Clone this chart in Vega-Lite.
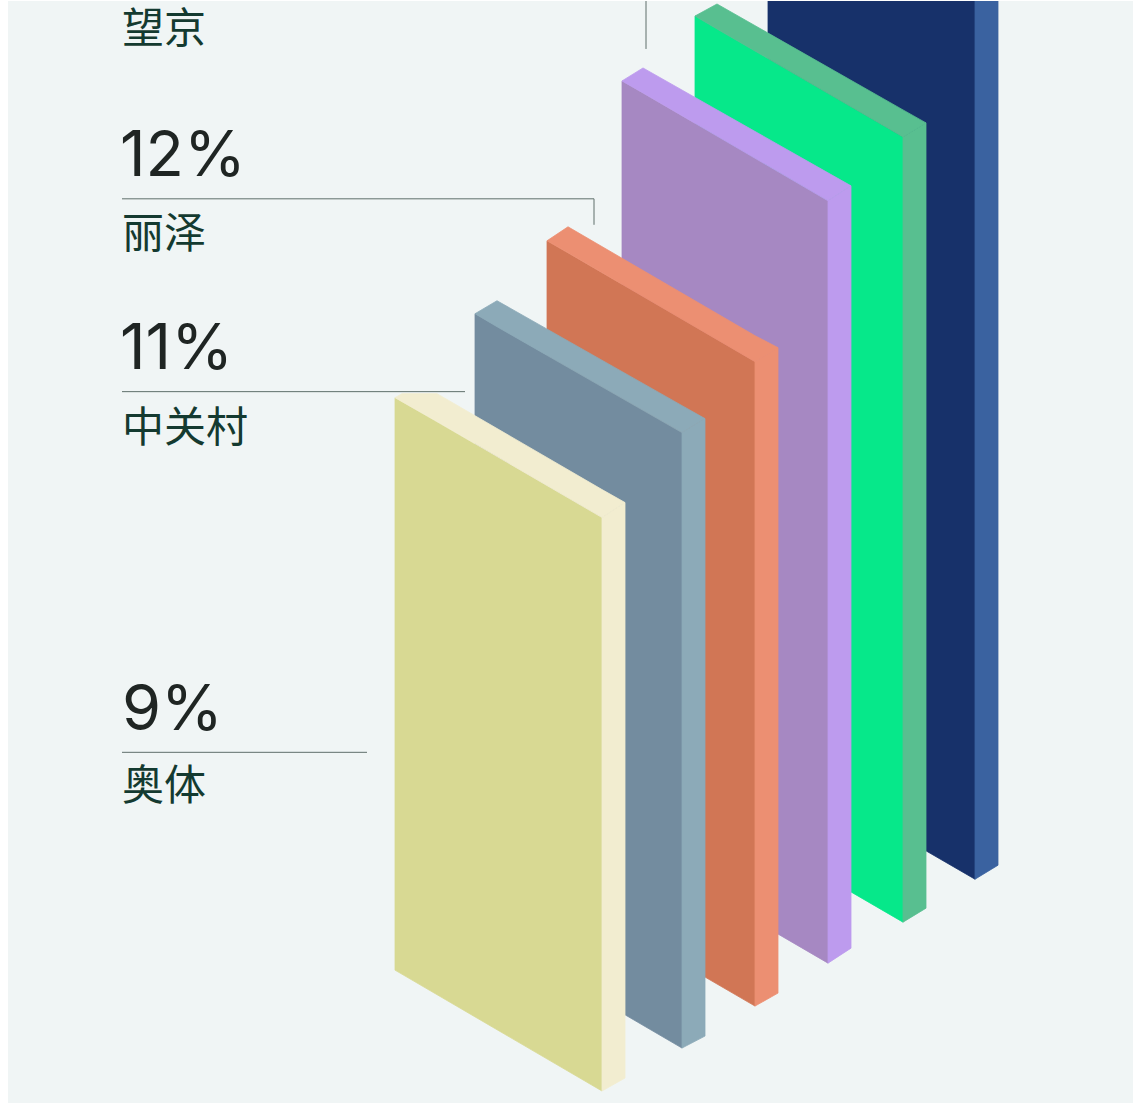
{
"$schema":"https://vega.github.io/schema/vega-lite/v6.json",
"width":1133,"height":1105,"padding":0,"autosize":{"type":"fit","contains":"padding"},
"background":"#ffffff",
"config":{"view":{"stroke":null}},
"datasets":{
"panel":[{"x":8,"x2":1133,"y":0,"y2":1103}],
"faces":[
{"face":"a-front","x":768,"y":-130,"y2":759},{"face":"a-front","x":975,"y":-10,"y2":879},
{"face":"a-side","x":975,"y":-10,"y2":879},{"face":"a-side","x":998,"y":-23,"y2":865},
{"face":"b-front","x":695,"y":15,"y2":801},{"face":"b-front","x":903,"y":136,"y2":922},
{"face":"b-side","x":903,"y":136,"y2":922},{"face":"b-side","x":926,"y":122,"y2":908},
{"face":"b-top","x":695,"y":15,"y2":15},{"face":"b-top","x":717,"y":3,"y2":28},{"face":"b-top","x":903,"y":109,"y2":136},{"face":"b-top","x":926,"y":122,"y2":122},
{"face":"望京-front","x":622,"y":80,"y2":843},{"face":"望京-front","x":828,"y":200,"y2":963},
{"face":"望京-side","x":828,"y":200,"y2":963},{"face":"望京-side","x":851,"y":185,"y2":948},
{"face":"望京-top","x":622,"y":80,"y2":80},{"face":"望京-top","x":643,"y":67,"y2":92},{"face":"望京-top","x":828,"y":172,"y2":200},{"face":"望京-top","x":851,"y":185,"y2":185},
{"face":"丽泽-front","x":547,"y":240,"y2":885},{"face":"丽泽-front","x":755,"y":361,"y2":1006},
{"face":"丽泽-side","x":755,"y":361,"y2":1006},{"face":"丽泽-side","x":778,"y":347,"y2":993},
{"face":"丽泽-top","x":547,"y":240,"y2":240},{"face":"丽泽-top","x":568,"y":226,"y2":252},{"face":"丽泽-top","x":755,"y":335,"y2":361},{"face":"丽泽-top","x":778,"y":347,"y2":347},
{"face":"中关村-front","x":475,"y":313,"y2":927},{"face":"中关村-front","x":682,"y":432,"y2":1048},
{"face":"中关村-side","x":682,"y":432,"y2":1048},{"face":"中关村-side","x":705,"y":418,"y2":1036},
{"face":"中关村-top","x":475,"y":313,"y2":313},{"face":"中关村-top","x":497,"y":300,"y2":326},{"face":"中关村-top","x":682,"y":405,"y2":432},{"face":"中关村-top","x":705,"y":418,"y2":418},
{"face":"奥体-front","x":395,"y":397,"y2":970},{"face":"奥体-front","x":602,"y":517,"y2":1091},
{"face":"奥体-side","x":602,"y":517,"y2":1091},{"face":"奥体-side","x":625,"y":502,"y2":1078},
{"face":"奥体-top","x":395,"y":397,"y2":397},{"face":"奥体-top","x":402,"y":393,"y2":401},{"face":"奥体-top","x":437,"y":393,"y2":421},{"face":"奥体-top","x":602,"y":489,"y2":517},{"face":"奥体-top","x":625,"y":502,"y2":502}
],
"leaders":[
{"x":646,"x2":646,"y":0,"y2":48},
{"x":122,"x2":594,"y":198,"y2":198},
{"x":594,"x2":594,"y":198,"y2":224},
{"x":122,"x2":465,"y":391,"y2":391},
{"x":122,"x2":367,"y":752,"y2":752}
],
"values":[
{"t":"12%","x":120,"y":175},{"t":"11%","x":120,"y":368},{"t":"9%","x":122,"y":730}
],
"names":[
{"t":"望京","x":122,"y":29},{"t":"丽泽","x":122,"y":234},{"t":"中关村","x":122,"y":428},{"t":"奥体","x":122,"y":787}
]
},
"layer":[
{"data":{"name":"panel"},"mark":{"type":"rect","color":"#f0f5f5"},
 "encoding":{"x":{"field":"x","type":"quantitative","scale":{"domain":[0,1133]},"axis":null},"x2":{"field":"x2"},
 "y":{"field":"y","type":"quantitative","scale":{"domain":[1105,0]},"axis":null},"y2":{"field":"y2"}}},
{"data":{"name":"faces"},"mark":{"type":"area","clip":true,"interpolate":"linear","orient":"vertical","strokeWidth":0.8},
 "encoding":{"x":{"field":"x","type":"quantitative","scale":{"domain":[0,1133]},"axis":null},
 "y":{"field":"y","type":"quantitative","scale":{"domain":[1105,0]},"axis":null},"y2":{"field":"y2"},
 "color":{"field":"face","type":"nominal","legend":null,"sort":null,"scale":{"name":"faceFill",
  "domain":["a-front","a-side","b-front","b-side","b-top","望京-front","望京-side","望京-top","丽泽-front","丽泽-side","丽泽-top","中关村-front","中关村-side","中关村-top","奥体-front","奥体-side","奥体-top"],
  "range":["#17316a","#3a62a0","#06e88a","#58bf90","#58bf90","#a688c2","#bd9bee","#bd9bee","#d17655","#ec8f72","#ec8f72","#738c9f","#8caab8","#8caab8","#d8d993","#f2edd0","#f2edd0"]}},
 "stroke":{"field":"face","type":"nominal","legend":null,"sort":null,"scale":{
  "domain":["a-front","a-side","b-front","b-side","b-top","望京-front","望京-side","望京-top","丽泽-front","丽泽-side","丽泽-top","中关村-front","中关村-side","中关村-top","奥体-front","奥体-side","奥体-top"],
  "range":["#17316a","#3a62a0","#06e88a","#58bf90","#58bf90","#a688c2","#bd9bee","#bd9bee","#d17655","#ec8f72","#ec8f72","#738c9f","#8caab8","#8caab8","#d8d993","#f2edd0","#f2edd0"]}}}},
{"data":{"name":"leaders"},"mark":{"type":"rule","color":"#5f6f6b","strokeWidth":1},
 "encoding":{"x":{"field":"x","type":"quantitative","scale":{"domain":[0,1133]},"axis":null},"x2":{"field":"x2"},
 "y":{"field":"y","type":"quantitative","scale":{"domain":[1105,0]},"axis":null},"y2":{"field":"y2"}}},
{"data":{"name":"values"},"mark":{"type":"text","font":"Inter","fontSize":63,"fontWeight":400,"align":"left","baseline":"alphabetic","color":"#1f2523"},
 "encoding":{"x":{"field":"x","type":"quantitative","scale":{"domain":[0,1133]},"axis":null},
 "y":{"field":"y","type":"quantitative","scale":{"domain":[1105,0]},"axis":null},"text":{"field":"t"}}},
{"data":{"name":"names"},"mark":{"type":"text","font":"Noto Sans CJK SC","fontSize":42,"fontWeight":400,"align":"left","baseline":"middle","color":"#143a30"},
 "encoding":{"x":{"field":"x","type":"quantitative","scale":{"domain":[0,1133]},"axis":null},
 "y":{"field":"y","type":"quantitative","scale":{"domain":[1105,0]},"axis":null},"text":{"field":"t"}}}
]
}
